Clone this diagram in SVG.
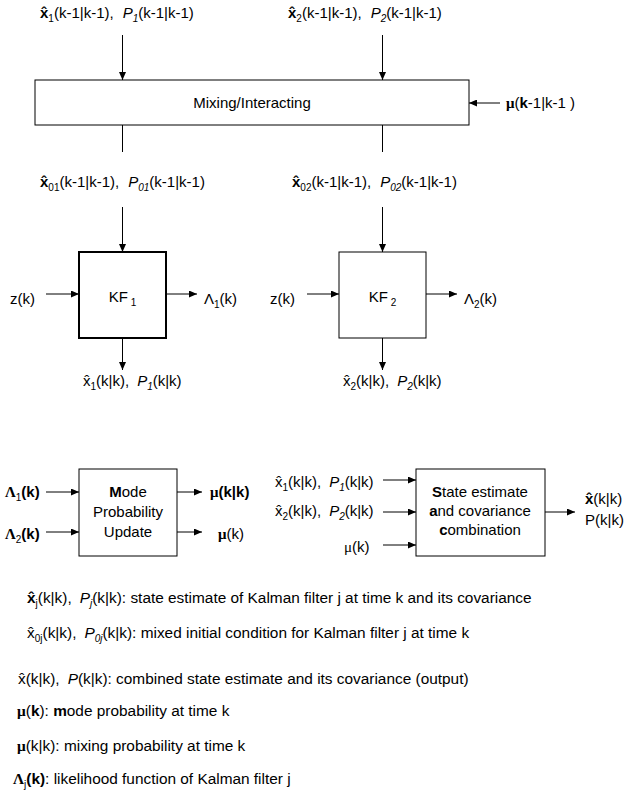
<svg xmlns="http://www.w3.org/2000/svg" width="625" height="792" viewBox="0 0 625 792">
<style>
text { font-family: "Liberation Sans", Arial, sans-serif; font-size: 15px; fill: #000; }
#legend text { font-size: 15.4px; }
.sym { font-family: "Liberation Serif", "Times New Roman", serif; }
.sub { font-size: 10px; }
#legend .sub { font-size: 10px; }
.it { font-style: italic; }
.b { font-weight: bold; }
.box { fill: #fff; stroke: #000; stroke-width: 1; }
.thick { stroke-width: 2; }
#connectors line { stroke: #000; stroke-width: 1; }
#connectors line.a { marker-end: url(#ah); }
</style>
<defs>
<marker id="ah" markerUnits="userSpaceOnUse" markerWidth="8" markerHeight="7" refX="8" refY="3.5" orient="auto">
<path d="M0,0 L8,3.5 L0,7 z" fill="#000"/>
</marker>
</defs>
<rect width="625" height="792" fill="#fff"/>

<g id="connectors">
<line class="a" x1="122.5" y1="35" x2="122.5" y2="80"/>
<line class="a" x1="382.5" y1="35" x2="382.5" y2="80"/>
<line class="a" x1="500" y1="103" x2="469" y2="103"/>
<line x1="122.5" y1="125" x2="122.5" y2="152"/>
<line x1="382.5" y1="125" x2="382.5" y2="152"/>
<line class="a" x1="122.5" y1="207" x2="122.5" y2="252"/>
<line class="a" x1="382.5" y1="207" x2="382.5" y2="252"/>
<line class="a" x1="46" y1="294" x2="79" y2="294"/>
<line class="a" x1="166" y1="294" x2="197" y2="294"/>
<line class="a" x1="307" y1="294" x2="339" y2="294"/>
<line class="a" x1="426" y1="294" x2="457" y2="294"/>
<line class="a" x1="122.5" y1="338" x2="122.5" y2="370"/>
<line class="a" x1="382.5" y1="338" x2="382.5" y2="370"/>
<line class="a" x1="46" y1="492" x2="79" y2="492"/>
<line class="a" x1="46" y1="532" x2="79" y2="532"/>
<line class="a" x1="177" y1="492" x2="202" y2="492"/>
<line class="a" x1="177" y1="532" x2="202" y2="532"/>
<line class="a" x1="383" y1="480" x2="416" y2="480"/>
<line class="a" x1="383" y1="512" x2="416" y2="512"/>
<line class="a" x1="383" y1="545" x2="416" y2="545"/>
<line class="a" x1="545" y1="512" x2="575" y2="512"/>
</g>

<g id="mixing">
<rect class="box" x="35" y="80" width="434" height="45"/>
<text x="252" y="108" text-anchor="middle">Mixing/Interacting</text>
</g>

<g id="kf1">
<rect class="box thick" x="79" y="252" width="87" height="86"/>
<text x="122.5" y="302" text-anchor="middle">KF<tspan class="sub" dx="3" dy="4">1</tspan></text>
</g>

<g id="kf2">
<rect class="box" x="339" y="252" width="87" height="86"/>
<text x="382.5" y="302" text-anchor="middle">KF<tspan class="sub" dx="3" dy="4">2</tspan></text>
</g>

<g id="mode">
<rect class="box" x="79" y="469" width="98" height="87"/>
<text x="128" y="497" text-anchor="middle"><tspan class="b">M</tspan>ode</text>
<text x="128" y="517" text-anchor="middle">Probability</text>
<text x="128" y="537" text-anchor="middle">Update</text>
</g>

<g id="combine">
<rect class="box" x="416" y="469" width="129" height="87"/>
<text x="480" y="497" text-anchor="middle"><tspan class="b">S</tspan>tate estimate</text>
<text x="480" y="516" text-anchor="middle"><tspan class="b">a</tspan>nd covariance</text>
<text x="480" y="535" text-anchor="middle"><tspan class="b">c</tspan>ombination</text>
</g>

<g id="labels">
<text x="40" y="18"><tspan class="b">x̂</tspan><tspan class="sub" dy="4">1</tspan><tspan dy="-4">(k-1|k-1),</tspan><tspan class="it" dx="9">P</tspan><tspan class="sub it" dy="4">1</tspan><tspan dy="-4">(k-1|k-1)</tspan></text>
<text x="288" y="18"><tspan class="b">x̂</tspan><tspan class="sub" dy="4">2</tspan><tspan dy="-4">(k-1|k-1),</tspan><tspan class="it" dx="9">P</tspan><tspan class="sub it" dy="4">2</tspan><tspan dy="-4">(k-1|k-1)</tspan></text>
<text x="506" y="108"><tspan class="sym b">μ</tspan>(<tspan class="b">k</tspan>-1|k-1 )</text>

<text x="40" y="187"><tspan class="b">x̂</tspan><tspan class="sub" dy="4">01</tspan><tspan dy="-4">(k-1|k-1),</tspan><tspan class="it" dx="9">P</tspan><tspan class="sub it" dy="4">01</tspan><tspan dy="-4">(k-1|k-1)</tspan></text>
<text x="292" y="187"><tspan class="b">x̂</tspan><tspan class="sub" dy="4">02</tspan><tspan dy="-4">(k-1|k-1),</tspan><tspan class="it" dx="9">P</tspan><tspan class="sub it" dy="4">02</tspan><tspan dy="-4">(k-1|k-1)</tspan></text>

<text x="10" y="304">z(k)</text>
<text x="204" y="304">Λ<tspan class="sub" dy="4">1</tspan><tspan dy="-4">(k)</tspan></text>
<text x="270" y="304">z(k)</text>
<text x="464" y="304">Λ<tspan class="sub" dy="4">2</tspan><tspan dy="-4">(k)</tspan></text>

<text x="83" y="386">x̂<tspan class="sub" dy="4">1</tspan><tspan dy="-4">(k|k),</tspan><tspan class="it" dx="8">P</tspan><tspan class="sub it" dy="4">1</tspan><tspan dy="-4">(k|k)</tspan></text>
<text x="343" y="386">x̂<tspan class="sub" dy="4">2</tspan><tspan dy="-4">(k|k),</tspan><tspan class="it" dx="8">P</tspan><tspan class="sub it" dy="4">2</tspan><tspan dy="-4">(k|k)</tspan></text>

<text x="5" y="497"><tspan class="sym b">Λ</tspan><tspan class="sub" dy="4">1</tspan><tspan class="b" dy="-4">(k)</tspan></text>
<text x="5" y="539"><tspan class="sym b">Λ</tspan><tspan class="sub" dy="4">2</tspan><tspan class="b" dy="-4">(k)</tspan></text>
<text x="210" y="497"><tspan class="sym b">μ</tspan><tspan class="b">(k|k)</tspan></text>
<text x="218" y="539"><tspan class="sym b">μ</tspan>(k)</text>

<text x="275" y="487">x̂<tspan class="sub" dy="4">1</tspan><tspan dy="-4">(k|k),</tspan><tspan class="it" dx="8">P</tspan><tspan class="sub it" dy="4">1</tspan><tspan dy="-4">(k|k)</tspan></text>
<text x="275" y="516">x̂<tspan class="sub" dy="4">2</tspan><tspan dy="-4">(k|k),</tspan><tspan class="it" dx="8">P</tspan><tspan class="sub it" dy="4">2</tspan><tspan dy="-4">(k|k)</tspan></text>
<text x="344" y="552"><tspan class="sym">μ</tspan>(k)</text>
<text x="585" y="504"><tspan class="b">x̂</tspan>(k|k)</text>
<text x="585" y="525">P(k|k)</text>
</g>

<g id="legend">
<text x="27" y="603"><tspan class="b">x̂</tspan><tspan class="sub" dy="4">j</tspan><tspan dy="-4">(k|k),</tspan><tspan class="it" dx="8">P</tspan><tspan class="sub it" dy="4">j</tspan><tspan dy="-4">(k|k): state estimate of Kalman filter j at time k and its covariance</tspan></text>
<text x="27" y="638">x̂<tspan class="sub" dy="4">0j</tspan><tspan dy="-4">(k|k),</tspan><tspan class="it" dx="8">P</tspan><tspan class="sub it" dy="4">0j</tspan><tspan dy="-4">(k|k): mixed initial condition for Kalman filter j at time k</tspan></text>
<text x="18" y="684">x̂(k|k),<tspan class="it" dx="8">P</tspan>(k|k): combined state estimate and its covariance (output)</text>
<text x="17" y="716"><tspan class="sym b">μ</tspan>(<tspan class="b">k</tspan>): <tspan class="b">m</tspan>ode probability at time k</text>
<text x="17" y="751"><tspan class="sym b">μ</tspan>(k|k): mixing probability at time k</text>
<text x="13" y="784"><tspan class="sym b">Λ</tspan><tspan class="sub" dy="4">j</tspan><tspan class="b" dy="-4">(k)</tspan>: likelihood function of Kalman filter j</text>
</g>
</svg>
